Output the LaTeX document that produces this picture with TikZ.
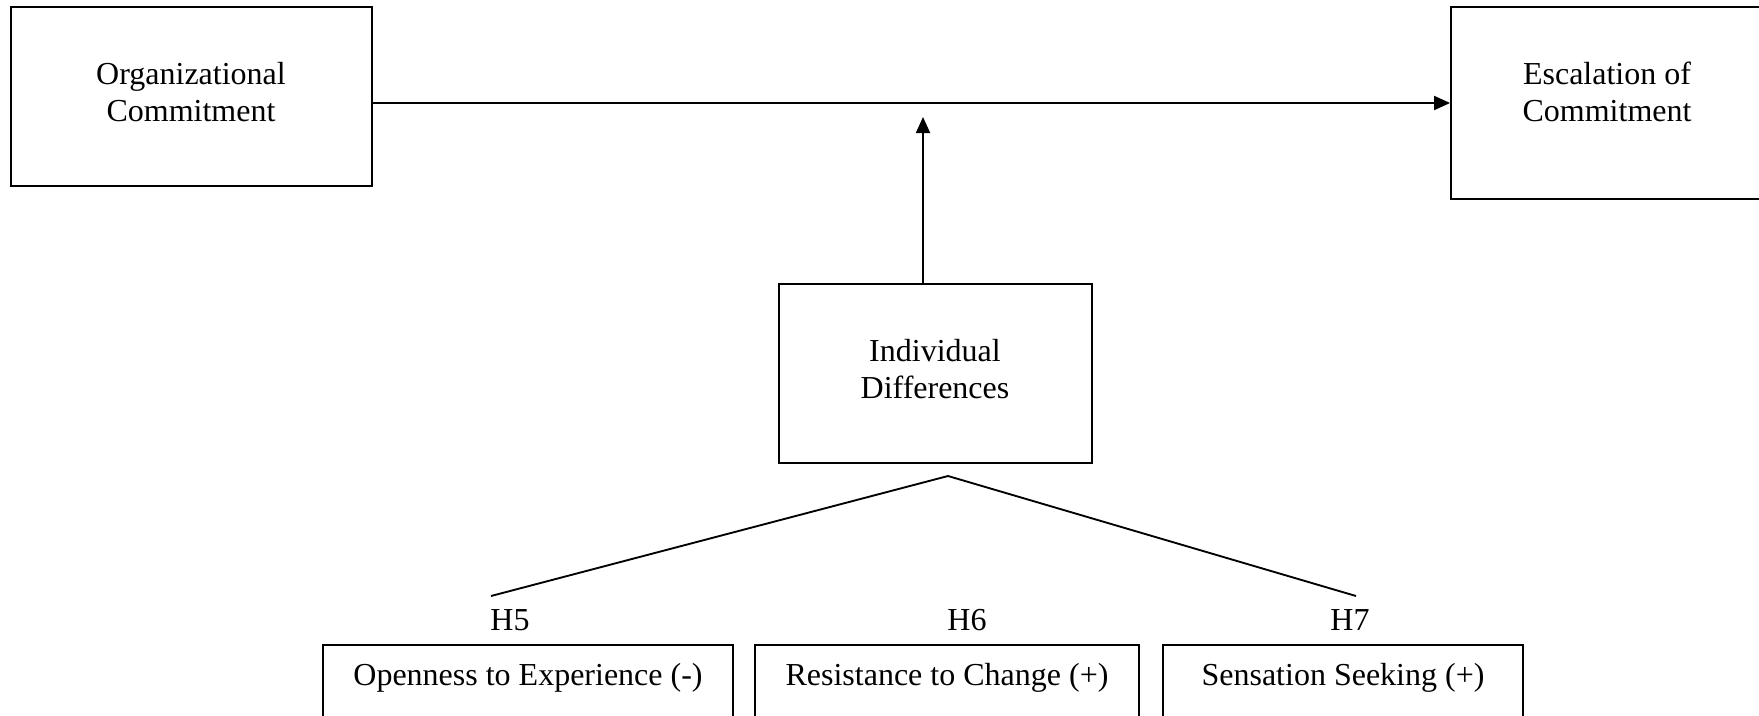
\documentclass[tikz,border=0pt]{standalone}
\usepackage{fontspec}
\setmainfont{Liberation Serif}
\usetikzlibrary{arrows.meta}
% one drawing unit = one pixel of the layout grid
\newcommand{\pxu}{*0.75pt}
\begin{document}
\begin{tikzpicture}[x=0.75pt,y=-0.75pt,
  every node/.style={font=\fontsize{24}{28}\selectfont},
  box/.style={draw, line width=1.4pt, inner sep=0pt},
  lbl/.style={align=center, inner sep=0pt},
  link/.style={line width=1.4pt},
  arr/.style={link, -{Triangle[length=12pt,width=10.5pt]}}]
\useasboundingbox (0,0) rectangle (1759,715);

% upper row: predictor and outcome
\node[box, minimum width=361\pxu, minimum height=179\pxu] (org) at (191.5,96.5) {};
\node[lbl] (orgtxt) at (191,92) {Organizational\\Commitment};
\node[box, minimum width=312\pxu, minimum height=192\pxu] (esc) at (1607,103) {};
\node[lbl] (esctxt) at (1607,92) {Escalation of\\Commitment};

% moderator
\node[box, minimum width=313\pxu, minimum height=179\pxu] (ind) at (935.5,373.5) {};
\node[lbl] (indtxt) at (935,369) {Individual\\Differences};

% bottom row: individual difference variables
\node[box, minimum width=410\pxu, minimum height=100\pxu, anchor=north] (open) at (528,644) {};
\node[box, minimum width=384\pxu, minimum height=100\pxu, anchor=north] (resist) at (947,644) {};
\node[box, minimum width=360\pxu, minimum height=100\pxu, anchor=north] (sens) at (1343,644) {};
\node[inner sep=0pt, anchor=base] (opentxt) at (528,685) {Openness to Experience (-)};
\node[inner sep=0pt, anchor=base] (resisttxt) at (947,685) {Resistance to Change (+)};
\node[inner sep=0pt, anchor=base] (senstxt) at (1343,685) {Sensation Seeking (+)};

% hypothesis labels
\node[inner sep=0pt, anchor=base] (h5) at (510,630) {H5};
\node[inner sep=0pt, anchor=base] (h6) at (967,630) {H6};
\node[inner sep=0pt, anchor=base] (h7) at (1350,630) {H7};

% connectors
\coordinate (mod) at (923,117);
\coordinate (apex) at (948,476);
\coordinate (lend) at (491,596);
\coordinate (rend) at (1356,596);

\draw[arr] (org.east |- esc.west) -- (esc.west);
\draw[arr] (ind.north -| mod) -- (mod);
\draw[link] (lend) -- (apex) -- (rend);
\end{tikzpicture}
\end{document}
